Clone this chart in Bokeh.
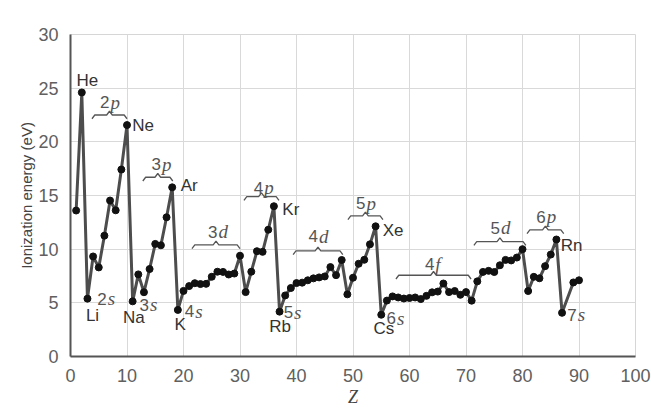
from bokeh.plotting import figure
from bokeh.models import ColumnDataSource, FixedTicker
from bokeh.core.properties import value
from bokeh.embed import file_html
from bokeh.resources import INLINE

# First ionization energies (eV) versus atomic number Z
atomic_number = list(range(1, 88)) + [89, 90]
ionization_ev = [
    13.6, 24.6, 5.39, 9.32, 8.30, 11.26, 14.53, 13.62, 17.42, 21.56,   # 1-10
    5.14, 7.65, 5.99, 8.15, 10.49, 10.36, 12.97, 15.76, 4.34, 6.11,    # 11-20
    6.56, 6.83, 6.75, 6.77, 7.43, 7.90, 7.88, 7.64, 7.73, 9.39,        # 21-30
    6.00, 7.90, 9.81, 9.75, 11.81, 14.00, 4.18, 5.69, 6.38, 6.84,      # 31-40
    6.88, 7.10, 7.28, 7.37, 7.46, 8.33, 7.58, 8.99, 5.79, 7.34,        # 41-50
    8.64, 9.01, 10.45, 12.13, 3.89, 5.21, 5.60, 5.50, 5.40, 5.45,      # 51-60
    5.50, 5.35, 5.65, 5.98, 6.05, 6.80, 6.00, 6.10, 5.75, 6.00,        # 61-70
    5.20, 7.00, 7.88, 7.98, 7.87, 8.50, 9.00, 8.95, 9.22, 10.00,       # 71-80
    6.10, 7.42, 7.29, 8.42, 9.50, 10.90, 4.07,                         # 81-87
    6.90, 7.10,                                                        # 89-90
]

# Element name labels (noble gases and alkali metals)
element_names = ["He", "Ne", "Ar", "Kr", "Xe", "Rn", "Li", "Na", "K", "Rb", "Cs"]
element_x = [3.0, 12.85, 21.0, 39.0, 57.1, 88.7, 3.9, 11.2, 19.4, 37.1, 55.45]
element_y = [25.7, 21.5, 15.9, 13.7, 11.75, 10.3, 3.85, 3.65, 3.0, 2.75, 2.65]

# Subshell labels: digit + italic letter
shell_num = ["2", "3", "4", "5", "6", "7", "2", "3", "3", "4", "4", "5", "4", "5", "6"]
shell_let = ["s", "s", "s", "s", "s", "s", "p", "p", "d", "p", "d", "p", "f", "d", "p"]
shell_x = [6.4, 13.9, 21.9, 39.4, 57.6, 89.6, 6.9, 16.0, 26.0, 34.1, 43.8, 52.2, 64.4, 76.0, 84.1]
shell_y = [5.4, 4.8, 4.2, 4.1, 3.55, 3.9, 23.7, 17.9, 11.6, 15.7, 11.2, 14.3, 8.6, 12.0, 13.0]

# Curly braces spanning each subshell block: start Z, end Z, height (eV)
brace_z0 = [3.8, 12.8, 21.5, 30.7, 39.4, 49.1, 57.6, 71.4, 80.8]
brace_z1 = [10.0, 18.1, 30.0, 36.9, 48.2, 55.3, 70.9, 80.6, 87.3]
brace_e = [22.5, 16.7, 10.4, 14.9, 9.85, 13.1, 7.57, 10.7, 11.8]

p = figure(width=651, height=409, x_range=(0, 100), y_range=(0, 30),
           output_backend="svg", toolbar_location=None,
           min_border_left=70, min_border_right=16,
           min_border_top=34, min_border_bottom=46)

p.background_fill_color = "white"
p.border_fill_color = "white"
p.outline_line_color = "#d6d6d6"
p.outline_line_width = 1

p.xaxis.ticker = FixedTicker(ticks=list(range(0, 101, 10)))
p.yaxis.ticker = FixedTicker(ticks=list(range(0, 31, 5)))
p.grid.grid_line_color = "#d9d9d9"
p.grid.grid_line_width = 1

for ax in (p.xaxis[0], p.yaxis[0]):
    ax.axis_line_color = "#555555"
    ax.axis_line_width = 2
    ax.major_tick_line_color = None
    ax.minor_tick_line_color = None
    ax.major_label_text_font = "Liberation Sans"
    ax.major_label_text_font_size = "18px"
    ax.major_label_text_color = "#606060"

p.yaxis.major_label_standoff = 6
p.xaxis.major_label_standoff = 6

p.yaxis.axis_label = "Ionization energy (eV)"
p.yaxis.axis_label_text_font = "Liberation Sans"
p.yaxis.axis_label_text_font_style = "normal"
p.yaxis.axis_label_text_font_size = "15px"
p.yaxis.axis_label_text_color = "#444444"
p.yaxis.axis_label_standoff = 0

p.xaxis.axis_label = "Z"
p.xaxis.axis_label_text_font = "Liberation Serif"
p.xaxis.axis_label_text_font_style = "italic"
p.xaxis.axis_label_text_font_size = "18px"
p.xaxis.axis_label_text_color = "#444444"
p.xaxis.axis_label_standoff = 2

# Data line and points
src = ColumnDataSource(dict(z=atomic_number, e=ionization_ev))
p.line("z", "e", source=src, line_color="#4d4d4d", line_width=3)
p.scatter("z", "e", source=src, size=7, fill_color="#111111", line_color="#111111")

# Curly braces over the subshell blocks
bx, by = [], []
for z0, z1, e in zip(brace_z0, brace_z1, brace_e):
    zm = 0.5 * (z0 + z1)
    hook = 0.35
    w = 0.5
    bx.append([z0, z0 + w, zm - w, zm, zm + w, z1 - w, z1])
    by.append([e - hook, e, e, e + hook, e, e, e - hook])
p.multi_line(bx, by, line_color="#555555", line_width=1.3)

# Element labels
p.text(x=element_x, y=element_y, text=element_names,
       text_font=value("Liberation Sans"), text_font_size=value("17px"),
       text_color="#333333", text_align="center", text_baseline="middle")

# Subshell labels
p.text(x=shell_x, y=shell_y, text=shell_num,
       text_font=value("Liberation Sans"), text_font_size=value("17px"),
       text_color="#555555", text_align="right", text_baseline="middle")
p.text(x=shell_x, y=shell_y, text=shell_let,
       text_font=value("Liberation Serif"), text_font_style="italic",
       text_font_size=value("19px"), text_color="#555555",
       text_align="left", text_baseline="middle", x_offset=1)

open("out.html", "w").write(file_html(p, INLINE))
